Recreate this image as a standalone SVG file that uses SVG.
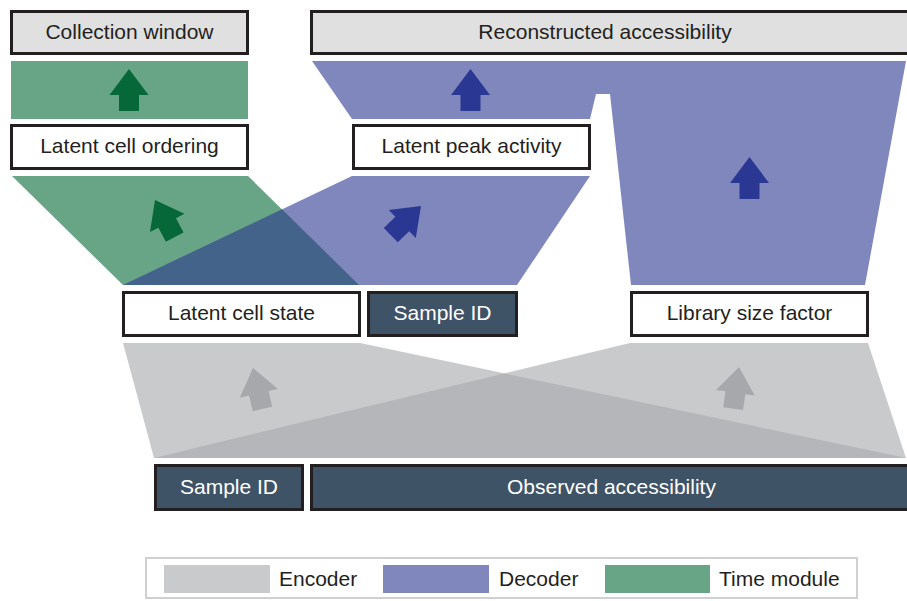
<svg xmlns="http://www.w3.org/2000/svg" xmlns:xlink="http://www.w3.org/1999/xlink" width="907" height="601" viewBox="0 0 907 601">
  <style>
    .box { fill: #ffffff; stroke: #231f20; stroke-width: 3; }
    .box-grey { fill: #e0e0e0; stroke: #231f20; stroke-width: 3; }
    .box-dark { fill: #3f5367; stroke: #231f20; stroke-width: 3; }
    .lbl { font-family: "Liberation Sans", Arial, sans-serif; font-size: 21px; fill: #231f20; text-anchor: middle; }
    .lbl-w { font-family: "Liberation Sans", Arial, sans-serif; font-size: 21px; fill: #ffffff; text-anchor: middle; }
    .leg { font-family: "Liberation Sans", Arial, sans-serif; font-size: 21px; fill: #231f20; }
    .enc { fill: #c9cacc; }
    .enc-ov { fill: #b5b6b9; }
    .dec { fill: #7f87bd; }
    .time { fill: #67a586; }
    .mix { fill: #44638a; }
    .ar-g { fill: #066838; }
    .ar-b { fill: #2b3893; }
    .ar-e { fill: #a7a8ab; }
  </style>
  <defs>
    <!-- block arrow, tip at origin, pointing up -->
    <path id="arrow" d="M0 0 L19.5 26 L10 26 L10 42 L-10 42 L-10 26 L-19.5 26 Z"/>
  </defs>

  <rect width="907" height="601" fill="#ffffff"/>

  <!-- network blocks and flow arrows -->
  <g id="connectors">
    <!-- encoder -->
    <polygon class="enc" points="123,343 360,343 906,458 154,458"/>
    <polygon class="enc" points="630,343 868,343 906,458 154,458"/>
    <polygon class="enc-ov" points="504.2,373.4 906,458 154,458"/>
    <!-- time module + decoder, lower -->
    <polygon class="time" points="12,176 248,176 359,285 123,285"/>
    <polygon class="dec" points="352,176 590,176 517,285 123,285"/>
    <polygon class="mix" points="282,209.3 359,285 123,285"/>
    <!-- time module, upper -->
    <rect class="time" x="11" y="61" width="237" height="58"/>
    <!-- decoder, upper -->
    <polygon class="dec" points="312,61 906,61 865,285 631,285 610,94 596,94 590,119 352,119"/>

    <use xlink:href="#arrow" class="ar-g" transform="translate(129,69)"/>
    <use xlink:href="#arrow" class="ar-b" transform="translate(470.5,69)"/>
    <use xlink:href="#arrow" class="ar-b" transform="translate(749.5,157)"/>
    <use xlink:href="#arrow" class="ar-g" transform="translate(155,200) rotate(-28)"/>
    <use xlink:href="#arrow" class="ar-b" transform="translate(421,206) rotate(46)"/>
    <use xlink:href="#arrow" class="ar-e" transform="translate(253,368) rotate(-13)"/>
    <use xlink:href="#arrow" class="ar-e" transform="translate(739,367) rotate(8)"/>
  </g>

  <g id="collection-window">
    <rect class="box-grey" x="11.5" y="11.5" width="236" height="42"/>
    <text class="lbl" x="129.5" y="38.5">Collection window</text>
  </g>
  <g id="latent-cell-ordering">
    <rect class="box" x="11.5" y="125.5" width="236" height="43"/>
    <text class="lbl" x="129.5" y="153">Latent cell ordering</text>
  </g>
  <g id="reconstructed-accessibility">
    <rect class="box-grey" x="311.5" y="11.5" width="600" height="42"/>
    <text class="lbl" x="605" y="38.5">Reconstructed accessibility</text>
  </g>
  <g id="latent-peak-activity">
    <rect class="box" x="353.5" y="125.5" width="236" height="43"/>
    <text class="lbl" x="471.5" y="153">Latent peak activity</text>
  </g>
  <g id="latent-cell-state">
    <rect class="box" x="123.5" y="292.5" width="236" height="43"/>
    <text class="lbl" x="241.5" y="320">Latent cell state</text>
  </g>
  <g id="sample-id-decoder">
    <rect class="box-dark" x="368.5" y="292.5" width="148" height="43"/>
    <text class="lbl-w" x="442.5" y="320">Sample ID</text>
  </g>
  <g id="library-size-factor">
    <rect class="box" x="631.5" y="292.5" width="236" height="43"/>
    <text class="lbl" x="749.5" y="320">Library size factor</text>
  </g>
  <g id="sample-id-encoder">
    <rect class="box-dark" x="155.5" y="465.5" width="147" height="44"/>
    <text class="lbl-w" x="229" y="494">Sample ID</text>
  </g>
  <g id="observed-accessibility">
    <rect class="box-dark" x="311.5" y="465.5" width="600" height="44"/>
    <text class="lbl-w" x="611.5" y="494">Observed accessibility</text>
  </g>

  <g id="legend">
    <rect x="146" y="558" width="711" height="40" fill="#ffffff" stroke="#cfd0d2" stroke-width="2"/>
    <rect class="enc" x="164" y="565" width="106" height="28"/>
    <text class="leg" x="279" y="586">Encoder</text>
    <rect class="dec" x="383" y="565" width="106" height="28"/>
    <text class="leg" x="499" y="586">Decoder</text>
    <rect class="time" x="605" y="565" width="105" height="28"/>
    <text class="leg" x="719" y="586">Time module</text>
  </g>
</svg>
